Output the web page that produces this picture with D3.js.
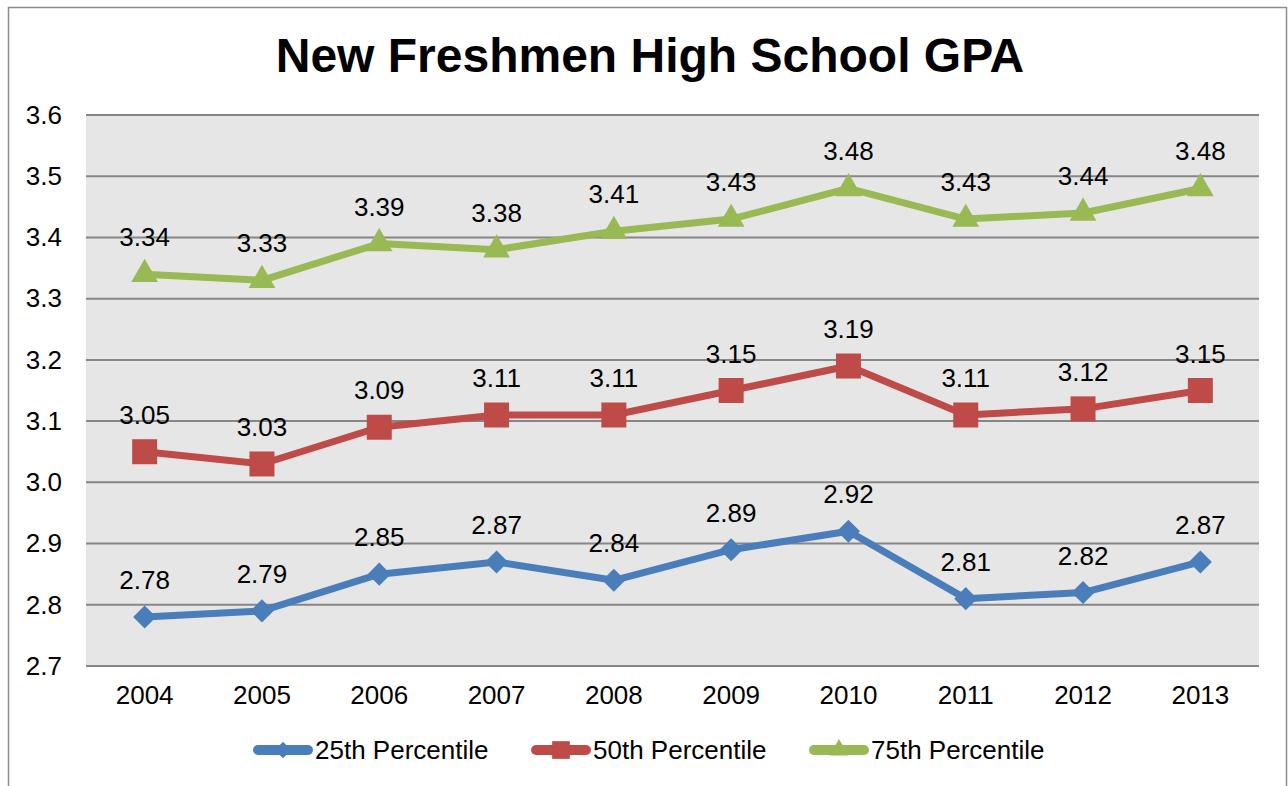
<!DOCTYPE html>
<html>
<head>
<meta charset="utf-8">
<script src="https://cdn.jsdelivr.net/npm/d3@7"></script>
<style>
  body { margin: 0; background: #fff; }
  svg { display: block; font-family: "Liberation Sans", Arial, sans-serif; }
</style>
</head>
<body>
<div id="chart"></div>
<script>
// chart data
var years = ["2004", "2005", "2006", "2007", "2008", "2009", "2010", "2011", "2012", "2013"];
var p25 = [2.78, 2.79, 2.85, 2.87, 2.84, 2.89, 2.92, 2.81, 2.82, 2.87];
var p50 = [3.05, 3.03, 3.09, 3.11, 3.11, 3.15, 3.19, 3.11, 3.12, 3.15];
var p75 = [3.34, 3.33, 3.39, 3.38, 3.41, 3.43, 3.48, 3.43, 3.44, 3.48];
var yTicks = [2.7, 2.8, 2.9, 3.0, 3.1, 3.2, 3.3, 3.4, 3.5, 3.6];
var seriesNames = ["25th Percentile", "50th Percentile", "75th Percentile"];

var W = 1288, H = 786;
var margin = {top: 115, right: 29, bottom: 120, left: 86};
var plotW = W - margin.left - margin.right,
    plotH = H - margin.top - margin.bottom;

var series = [
  {name: seriesNames[0], values: p25, color: "#4a7ebb", symbol: d3.symbolDiamond2, size: 340},
  {name: seriesNames[1], values: p50, color: "#be4b48", symbol: d3.symbolSquare, size: 625},
  {name: seriesNames[2], values: p75, color: "#98b954", symbol: d3.symbolTriangle, size: 310}
];

var svg = d3.select("#chart").append("svg")
  .attr("width", W)
  .attr("height", H);

// outer frame
svg.append("rect")
  .attr("x", 8.5).attr("y", 7.5)
  .attr("width", W - 10).attr("height", H + 20)
  .attr("fill", "none")
  .attr("stroke", "#8c8c8c")
  .attr("stroke-width", 1.5);

svg.append("text")
  .attr("x", 650).attr("y", 72)
  .attr("text-anchor", "middle")
  .style("font-size", "48px")
  .style("font-weight", "bold")
  .text("New Freshmen High School GPA");

var g = svg.append("g")
  .attr("transform", "translate(" + margin.left + "," + margin.top + ")");

var x = d3.scaleBand()
  .domain(years)
  .range([0, plotW]);

var y = d3.scaleLinear()
  .domain([2.7, 3.6])
  .range([plotH, 0]);

g.append("rect")
  .attr("width", plotW).attr("height", plotH)
  .attr("fill", "#e6e6e6");

// gridlines
g.selectAll(".grid")
  .data(yTicks)
  .enter().append("line")
    .attr("x1", 0).attr("x2", plotW)
    .attr("y1", function(d) { return y(d); })
    .attr("y2", function(d) { return y(d); })
    .attr("stroke", "#868686")
    .attr("stroke-width", 2);

// axes, text only
var yAxis = g.append("g")
  .call(d3.axisLeft(y).tickValues(yTicks).tickFormat(d3.format(".1f")).tickSize(0).tickPadding(24));
yAxis.select(".domain").remove();
yAxis.selectAll("text").style("font-size", "26px").attr("fill", "#000");

var xAxis = g.append("g")
  .attr("transform", "translate(0," + plotH + ")")
  .call(d3.axisBottom(x).tickSize(0).tickPadding(20));
xAxis.select(".domain").remove();
xAxis.selectAll("text").style("font-size", "26px").attr("fill", "#000");

var line = d3.line()
  .x(function(d, i) { return x(years[i]) + x.bandwidth() / 2; })
  .y(function(d) { return y(d); });

series.forEach(function(s) {
  g.append("path")
    .datum(s.values)
    .attr("d", line)
    .attr("fill", "none")
    .attr("stroke", s.color)
    .attr("stroke-width", 7)
    .attr("stroke-linejoin", "round");

  g.selectAll(null)
    .data(s.values)
    .enter().append("path")
      .attr("d", d3.symbol().type(s.symbol).size(s.size))
      .attr("transform", function(d, i) {
        return "translate(" + (x(years[i]) + x.bandwidth() / 2) + "," + y(d) + ")";
      })
      .attr("fill", s.color);

  g.selectAll(null)
    .data(s.values)
    .enter().append("text")
      .attr("x", function(d, i) { return x(years[i]) + x.bandwidth() / 2; })
      .attr("y", function(d) { return y(d) - 28; })
      .attr("text-anchor", "middle")
      .style("font-size", "26px")
      .text(function(d) { return d3.format(".2f")(d); });
});

// legend
var legendX = [253, 531, 809];
var legend = svg.append("g");
series.forEach(function(s, i) {
  var lg = legend.append("g")
    .attr("transform", "translate(" + legendX[i] + ",750)");
  lg.append("line")
    .attr("x1", 5).attr("x2", 55)
    .attr("stroke", s.color)
    .attr("stroke-width", 10)
    .attr("stroke-linecap", "round");
  lg.append("path")
    .attr("d", d3.symbol().type(s.symbol).size(s.size * 0.5))
    .attr("transform", "translate(30,0)")
    .attr("fill", s.color);
  lg.append("text")
    .attr("x", 62).attr("y", 9)
    .style("font-size", "26px")
    .text(s.name);
});
</script>
</body>
</html>
